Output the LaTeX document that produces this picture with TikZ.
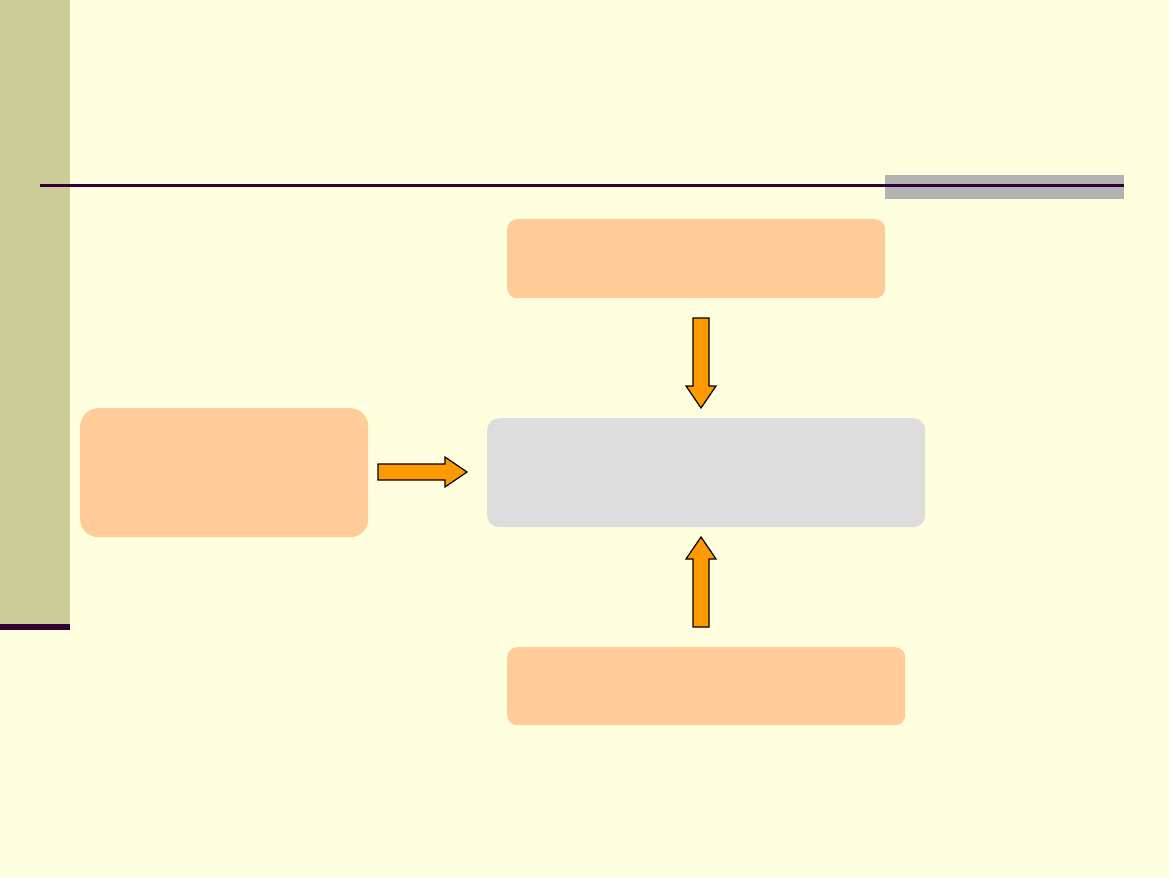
\documentclass[tikz,border=0pt]{standalone}
\usepackage{tikz}
\usetikzlibrary{positioning,calc}
\definecolor{hatter}{HTML}{FFFFE0}
\definecolor{savszin}{HTML}{CCCC99}
\definecolor{lila}{HTML}{330033}
\definecolor{szurke}{HTML}{B2B2B2}
\definecolor{barack}{HTML}{FFCC99}
\definecolor{halvany}{HTML}{DDDDDD}
\definecolor{narancs}{HTML}{FF9900}
\tikzset{
  doboz/.style={rounded corners=10pt,fill=barack,anchor=north west,inner sep=0pt},
  kozep/.style={rounded corners=12pt,fill=halvany,anchor=north west,inner sep=0pt},
  blokk/.style={draw=black,fill=narancs,line width=1.2pt,line join=miter},
}
\begin{document}
\begin{tikzpicture}[x=1pt,y=-1pt]
  \useasboundingbox[fill=hatter] (0,0) rectangle (1169,878);
  % keret
  \fill[savszin] (0,0) rectangle (70,624);
  \fill[lila] (0,624) rectangle (70,630);
  \fill[szurke] (885,175) rectangle (1124,199);
  \fill[lila] (40,184) rectangle (1124,187);
  % dobozok
  \node[doboz,minimum width=378pt,minimum height=79pt] (fent) at (507,219) {};
  \node[doboz,rounded corners=18pt,minimum width=288pt,minimum height=129pt] (bal) at (80,408) {};
  \node[kozep,minimum width=438pt,minimum height=109pt] (kozepso) at (487,418) {};
  \node[doboz,minimum width=398pt,minimum height=78pt] (lent) at (507,647) {};
  % nyilak
  \draw[blokk] (693,318) -- (709,318) -- (709,386) -- (716,386) -- (701,408)
    -- (686,386) -- (693,386) -- cycle;
  \draw[blokk] (378,464) -- (445,464) -- (445,457) -- (467,472) -- (445,487)
    -- (445,480) -- (378,480) -- cycle;
  \draw[blokk] (693,627) -- (709,627) -- (709,559) -- (716,559) -- (701,537)
    -- (686,559) -- (693,559) -- cycle;
\end{tikzpicture}
\end{document}
